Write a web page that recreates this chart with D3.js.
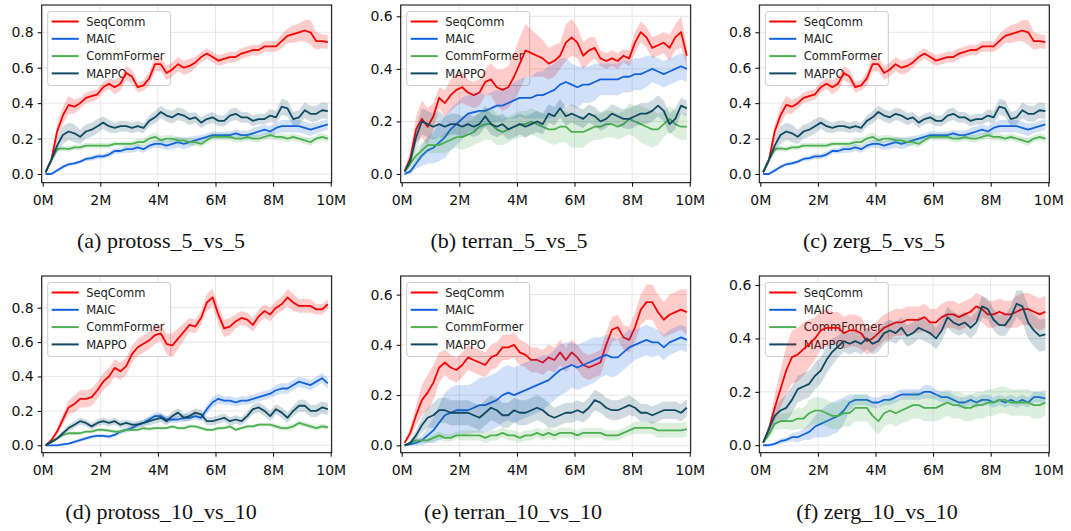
<!DOCTYPE html>
<html>
<head>
<meta charset="utf-8">
<script src="https://cdn.jsdelivr.net/npm/d3@7"></script>
<style>
  body { margin: 0; background: #fff; }
  svg text { font-family: "DejaVu Sans", sans-serif; }
  .caption { font-family: "Liberation Serif", "Times New Roman", serif !important; }
</style>
</head>
<body>
<svg id="chart" width="1071" height="531"></svg>
<script>
// training steps (millions) at which every curve is sampled
var steps = d3.range(50).map(i => 0.1 + i * 0.2);
var methods = ['SeqComm', 'MAIC', 'CommFormer', 'MAPPO'];
var colors = ['#ff0000', '#1262e0', '#4caf50', '#104a62'];
var xTicks = [0, 2, 4, 6, 8, 10];

// win rates in percent, mean and half band width

// (a) protoss_5_vs_5
var protoss5_seq = [1,8,24,33,39,38,40,43,44,45, 49,51,49,51,57,55,49,50,54,62, 62,57,59,62,60,61,63,66,68,66, 64,65,66,66,68,69,70,70,72,72, 72,75,78,79,80,81,80,75,75,74.5];
var protoss5_seq_sd = [1,2,4,5,5,4,3,3,3,3, 3,3,4,4,4,4,3,3,4,4, 4,4,4,4,4,4,3,3,3,3, 3,3,3,3,3,3,3,3,3,3, 3,4,4,5,5,6,7,5,4,4];
var protoss5_maic = [0,0,2,4,5.5,6,7,8.5,9,10, 10,11,13,13,14,14,15,14,16,17, 17,16,17,18,17,18,19,20,21,22, 22,22,22,23,22,22,23,24,25,24, 26,27,27,27,27,26,25,26,27,28];
var protoss5_maic_sd = [0.5,0.5,1,1,1,1,1,1,1.5,1.5, 1.5,1.5,1.5,1.5,2,2,2,2,2,2, 2.5,2.5,3,3,3,3,2.5,2,2,2, 2,2,2,2,2.5,2.5,3,3,3,3, 3,3.5,3.5,3.5,3.5,3.5,3.5,3,3,3];
var protoss5_comm = [1,8,14,14.5,14,15,15,16,16,16, 16,16,17,17,17,17,18,18,20,21, 19,20,20,19,19,18,18,17,19,21, 21,21,21,20,20,21,20,20,21,22, 21,21,20,21,20,19,18,20,21,20];
var protoss5_comm_sd = [0.5,1,1.5,1.5,1.5,1.5,1.5,1.5,1.5,1.5, 1.5,1.5,1.5,1.5,1.5,1.5,2,2,2,2.5, 2.5,2,2,2,2,2,2,2,2,2, 2,2,2,2,2,2,2,2,2,2, 2,2,2,2,2,2,2,2,2,2];
var protoss5_mappo = [1,8,16,22,24,23,21,24,25,27, 29,27,26,27,27,26,27,26,30,32, 35,33,32,34,33,31,32,29,31,32, 30,30,33,34,32,32,30,31,31,33, 32,38,37,31,32,36,34,34,36,35.5];
var protoss5_mappo_sd = [0.5,2,4,5,5,5,4,4,4,4, 3.5,3.5,3,3,3,3,3,3,3,3.5, 3.5,3.5,3.5,3.5,3.5,3.5,3,3,3,3, 3,3,3.5,3.5,3,3,3,3,3,3.5, 3.5,4.5,4.5,4,4,4.5,4.5,4.5,4.5,4.5];

// (b) terran_5_vs_5
var terran5_seq = [1,6,17,21,18,22,29,27,30,32, 33,31,30,31,35,36,33,32,33,37, 42,47,46,45,44,42,43,45,50,52, 50,45,47,48,44,43,44,43,45,44, 50,54,52,48,49,50,48,52,54,45];
var terran5_seq_sd = [1,3,5,7,7,5,4,5,6,6, 6,5,5,5,5,6,7,8,8,9, 10,10,9,8,7,6,6,5,7,7, 6,5,5,4,3,3,3,3,2.5,3, 4,4,4,4,4,4,5,5,6,4];
var terran5_maic = [0,1,4,7,9,10,12,14,17,19, 21,23,23.5,24,24,25,26,26,27,28, 29,29,29,30,30,31,32,34,35,34, 33,34,34,35,36,36,36,36,37,37, 38,38,39,40,39,38,39,40,41,40];
var terran5_maic_sd = [0.5,1,2,4,5,6,7,8,8,8, 8,7,7,7,6,6,6,6,6,7, 7,8,8,9,9,10,10,10,9,8, 8,7,7,7,6,6,6,6,6,6, 6,6,6,5,5,5,5,5,5,5];
var terran5_comm = [1,4,7,9,11,11,11,12,13,14, 14,15,16,18,19,19,17,16,17,18, 19,19,20,19,18,17,17,18,18,16, 16,16,17,18,18,19,19,18,19,21, 20,19,18,17,17,19,21,19,18,18];
var terran5_comm_sd = [1,2,3,3,3,3,3,4,4,4, 5,5,5,6,6,6,6,5,5,5, 5,5,5,5,5,5,6,6,6,6, 6,6,5,5,5,5,5,5,5,6, 6,7,7,7,6,5,5,5,5,5];
var terran5_mappo = [1,5,14,20,19,18,19,18,19,19, 18,19,18,19,22,19,18,19,17,18, 19,18,19,20,19,23,22,25,22,23, 22,21,23,22,20,21,23,22,21,21, 22,23,23,24,26,24,19,21,26,25];
var terran5_mappo_sd = [0.5,2,4,5,5,5,5,4,4,4, 4,4,4,4,4,4,4,4,4,4, 4,4,4,4,4,3.5,3.5,3.5,3.5,3.5, 3.5,3.5,3.5,3.5,3.5,3.5,3.5,3.5,3.5,4, 4,4,4,4,4,4,4,4,3,3];

// (d) protoss_10_vs_10
var protoss10_seq = [0,3,8,15,22,24,27,27,28,32, 37,40,45,43,46,53,57,59,61,64, 65,59,58,62,66,70,69,74,83,86, 76,68,69,72,74,73,70,75,78,76, 80,82,86,83,81,81,81,79,79,82];
var protoss10_seq_sd = [0.5,1,2,3,4,5,5,5,5,5, 5,5,5,5,5,5,5,5,5,5, 5,6,7,6,5,4,4,4,5,5, 5,5,5,4,4,4,4,4,4,4, 4,4,5,5,4,4,4,3,3,3];
var protoss10_maic = [0,0,0,0.5,1,2,3,4,5,5.5, 5.5,5,6,8,9,10,12,13,15,17, 17,15,15,15,16,16,17,16,21,25, 27,26,26,25,26,26,27,28,29,30, 32,33,33,35,37,36,35,37,39,36];
var protoss10_maic_sd = [0.3,0.3,0.5,0.5,0.5,1,1,1,1,1, 1,1,1,1.5,1.5,1.5,1.5,1.5,2,2, 2,2,2,2,2,2,2,2,2.5,3, 3,2.5,2.5,2.5,2.5,2.5,2.5,2.5,2.5,2.5, 3,3,3,3,3,3,3,3,3,3];
var protoss10_comm = [0,2,4,6,7,7,7,8,8,9, 9,8.5,8,8,9,9,9,10,9.5,10, 10,10,11,10,10,11,11,10,9,9, 10,10,11,9,10,11,11,12,12,12, 11,10,10,11,13,12,11,10,11,10.5];
var protoss10_comm_sd = [0.3,1,1,1,1,1,1,1,1,1, 1,1,1,1,1,1,1,1,1,1, 1,1,1,1,1,1,1,1,1,1, 1,1,1,1,1,1,1,1,1,1, 1.5,1.5,1.5,1.5,1.5,1.5,1.5,1.5,1.5,1.5];
var protoss10_mappo = [0,2,4,7,10,12,14,13,11,13, 14,13,14,12,13,12,12,13,14,15, 16,14,17,19,16,17,19,18,14,14, 15,16,14,15,14,17,21,22,20,17, 21,19,16,20,23,23,20,20,22,21];
var protoss10_mappo_sd = [0.3,1,1,1.5,2,2,2,2,2,2, 2,2,2,2,2,2,2,2,2.5,2.5, 2.5,2.5,2.5,2.5,2.5,2.5,2.5,2.5,2.5,2.5, 2.5,2.5,2.5,2.5,2.5,2.5,3,3,3,3, 3,3,3,3,3.5,3.5,3.5,3.5,3.5,3.5];

// (e) terran_10_vs_10
var terran10_seq = [1,5,12,18,21,25,31,33,31,30, 32,35,34,33,32,35,36,39,39,40, 37,36,34,34,33,35,34,37,34,37, 35,32,31,32,33,40,46,47,43,42, 47,54,57,57,53,50,52,53,54,53];
var terran10_seq_sd = [0.5,2,4,6,7,7,6,5,5,5, 5,5,5,5,5,5,5,5,5,5, 5,5,5,5,5,5,5,5,5,5, 5,5,5,5,5,5,5,5,5,5, 6,6,7,7,7,7,8,8,8,9];
var terran10_maic = [0,0.5,1,2,4,6,9,12,13,14, 14,14,15,16,16,17,18,20,21,20, 21,22,23,24,25,26,28,30,31,32, 31,32,33,34,35,36,35,35,37,39, 40,41,42,41,41,39,41,42,43,42];
var terran10_maic_sd = [0.3,0.5,1,2,3,5,7,9,10,10, 10,10,10,11,11,11,11,11,11,11, 11,11,11,11,11,10,10,10,10,9, 9,9,9,9,8,8,8,7,7,7, 6,6,6,6,5,5,5,5,5,5];
var terran10_comm = [0,1,2,2,2,3,4,3,3,4, 4,4,4,4,3,4,4,5,4,4, 3,4,4,5,4,5,4,5,5,5, 4,5,5,5,5,4,4,4,5,6, 7,7,7,7,6,6,6,6,6,6.5];
var terran10_comm_sd = [0.3,0.5,1,1,1,1.5,1.5,1.5,1.5,1.5, 2,2,2,2,2,2,2,2,2,2, 2,2,2,2,2,2,2,2,2,2, 2,2,2,2,2,2,2,2,2,2, 2.5,2.5,2.5,2.5,3,3,3,3,3,3];
var terran10_mappo = [0,1,4,8,11,12,14,14,13,13, 13,13,12,11,13,15,14,12,12,14, 13,13,14,15,14,12,11,12,13,13, 14,13,15,18,17,15,14,14,15,16, 15,13,13,12,13,14,14,14,13,15];
var terran10_mappo_sd = [0.3,1,2,3,4,5,5,5,5,5, 5,5,5,5,5,5,5,5,5,5, 5,5,5,5,5,5,4,4,4,4, 4,4,4,4,4,4,4,4,4,4, 3.5,3.5,3.5,3.5,3.5,3.5,3.5,3.5,3.5,3.5];

// (f) zerg_10_vs_10
var zerg10_seq = [1,6,14,21,28,33,34,36,38,40, 43,44,44,44,42,43,43,42,39,40, 42,44,45,46,46,47,47,47,48,46, 46,48,49,49,48,49,50,52,51,49, 49,50,49,49,50,51,51,50,49,50];
var zerg10_seq_sd = [0.5,2,5,7,9,10,10,10,9,8, 7,7,6,6,6,6,6,6,5,5, 5,5,5,5,5,5,5,5,5,5, 5,5,5,5,5,5,5,5,5,5, 5,5,5,5,6,6,6,6,6,6];
var zerg10_maic = [0,0,0.5,1.5,2,3,3,4,5,7, 8,9,10,11,13,16,17,17,17,16, 16,17,17,18,19,19,19,19,20,20, 19,18,18,17,16,16,17,16,17,17, 16,17,16,17,16,17,16,18,18,17.5];
var zerg10_maic_sd = [0.3,0.3,0.5,1,1,1.5,2,2,3,4, 5,6,6,6,5,3,2,2,2,2, 2,2,2,2,2,2,2,2,2.5,2.5, 2,2,2,2,2,2,2,2,2,2, 2,2,2,2,2,2,2,2,2,2];
var zerg10_comm = [1,4,8,9,9,9,10,10,12,13, 13,12,11,11,12,12,14,14,14,11, 9,12,13,12,13,14,15,15,14,14, 14,15,16,15,15,14,14,15,15,16, 16,17,17,16,16,16,16,15,15,16];
var zerg10_comm_sd = [0.5,1.5,2.5,3,3,3.5,4,4,5,5, 5,5,5,5,5,5,5,5,5,5, 5,5,5,5,5,5,5,5,5,5, 5,5,5,5,5,5,5,5,5,5, 5,5,5,5,5,5,5,5,5,5];
var zerg10_mappo = [1,6,11,13,14,17,21,22,23,26, 28,32,35,37,39,38,39,38,40,38, 39,42,43,42,44,41,42,44,43,42, 40,43,48,46,45,46,44,46,52,51, 47,45,45,48,53,52,46,43,41,41.5];
var zerg10_mappo_sd = [0.5,2,3,4,5,5,5,5,5,5, 5,5,5,4,4,4,4,4,4,4, 4,4,4,4,4,4,4,4,4,4, 4,4,4,4,4,4,4,4,4,4, 4,4,4,4,5,6,6,6,6,6];

var protoss5 = [[protoss5_seq, protoss5_seq_sd], [protoss5_maic, protoss5_maic_sd],
                [protoss5_comm, protoss5_comm_sd], [protoss5_mappo, protoss5_mappo_sd]];
var terran5 = [[terran5_seq, terran5_seq_sd], [terran5_maic, terran5_maic_sd],
               [terran5_comm, terran5_comm_sd], [terran5_mappo, terran5_mappo_sd]];
// (c) shows the very same curves as (a)
var zerg5 = protoss5;
var protoss10 = [[protoss10_seq, protoss10_seq_sd], [protoss10_maic, protoss10_maic_sd],
                 [protoss10_comm, protoss10_comm_sd], [protoss10_mappo, protoss10_mappo_sd]];
var terran10 = [[terran10_seq, terran10_seq_sd], [terran10_maic, terran10_maic_sd],
                [terran10_comm, terran10_comm_sd], [terran10_mappo, terran10_mappo_sd]];
var zerg10 = [[zerg10_seq, zerg10_seq_sd], [zerg10_maic, zerg10_maic_sd],
              [zerg10_comm, zerg10_comm_sd], [zerg10_mappo, zerg10_mappo_sd]];

var panels = [
  {caption: '(a) protoss_5_vs_5', series: protoss5, left: 41.7, top: 5, height: 177.7, ymin: -0.049, ymax: 0.954, yTicks: [0, 0.2, 0.4, 0.6, 0.8], cx: 161},
  {caption: '(b) terran_5_vs_5', series: terran5, left: 400.7, top: 5, height: 177.7, ymin: -0.033, ymax: 0.643, yTicks: [0, 0.2, 0.4, 0.6], cx: 509},
  {caption: '(c) zerg_5_vs_5', series: zerg5, left: 759.3, top: 5, height: 177.7, ymin: -0.049, ymax: 0.954, yTicks: [0, 0.2, 0.4, 0.6, 0.8], cx: 874},
  {caption: '(d) protoss_10_vs_10', series: protoss10, left: 41.7, top: 276, height: 176.7, ymin: -0.043, ymax: 0.984, yTicks: [0, 0.2, 0.4, 0.6, 0.8], cx: 161},
  {caption: '(e) terran_10_vs_10', series: terran10, left: 400.7, top: 276, height: 176.7, ymin: -0.029, ymax: 0.674, yTicks: [0, 0.2, 0.4, 0.6], cx: 513},
  {caption: '(f) zerg_10_vs_10', series: zerg10, left: 759.3, top: 276, height: 176.7, ymin: -0.028, ymax: 0.634, yTicks: [0, 0.2, 0.4, 0.6], cx: 877}
];

var W = 290;
var svg = d3.select('#chart');

panels.forEach(function(p, pi) {
  var g = svg.append('g').attr('transform', 'translate(' + p.left + ',' + p.top + ')');
  var x = d3.scaleLinear().domain([0, 10]).range([1, 289]);
  var y = d3.scaleLinear().domain([p.ymin, p.ymax]).range([p.height, 0]);

  g.append('clipPath').attr('id', 'clip' + pi)
    .append('rect').attr('width', W).attr('height', p.height);

  // grid
  var grid = g.append('g').attr('stroke', '#e6e6e6').attr('stroke-width', 1);
  grid.selectAll('.gx').data(xTicks).join('line')
    .attr('x1', d => x(d)).attr('x2', d => x(d)).attr('y1', 0).attr('y2', p.height);
  grid.selectAll('.gy').data(p.yTicks).join('line')
    .attr('y1', d => y(d)).attr('y2', d => y(d)).attr('x1', 0).attr('x2', W);

  // legend (sits under the curves, as in the figure)
  var lg = g.append('g').attr('transform', 'translate(6,6.5)');
  lg.append('rect').attr('width', 123).attr('height', 74).attr('rx', 3)
    .attr('fill', '#fff').attr('stroke', '#cccccc').attr('stroke-width', 1);
  methods.forEach(function(m, i) {
    var ry = 10 + i * 17.3;
    lg.append('line').attr('x1', 4).attr('x2', 31).attr('y1', ry).attr('y2', ry)
      .attr('stroke', colors[i]).attr('stroke-width', 2);
    lg.append('text').attr('x', 38.5).attr('y', ry).attr('dy', '0.36em')
      .attr('font-size', '11.5px').attr('fill', '#222').text(m);
  });

  // curves with shaded bands
  var plot = g.append('g').attr('clip-path', 'url(#clip' + pi + ')');
  p.series.forEach(function(s, i) {
    var mean = s[0], sd = s[1];
    var pts = steps.map((t, k) => ({t: t, m: mean[k] / 100, s: sd[k] / 100}));
    plot.append('path').datum(pts)
      .attr('fill', colors[i]).attr('fill-opacity', 0.2).attr('stroke', 'none')
      .attr('d', d3.area().x(d => x(d.t)).y0(d => y(d.m - d.s)).y1(d => y(d.m + d.s)));
    plot.append('path').datum(pts)
      .attr('fill', 'none').attr('stroke', colors[i]).attr('stroke-width', 1.8)
      .attr('stroke-linejoin', 'round')
      .attr('d', d3.line().x(d => x(d.t)).y(d => y(d.m)));
  });

  // frame
  g.append('rect').attr('width', W).attr('height', p.height)
    .attr('fill', 'none').attr('stroke', '#000').attr('stroke-width', 1);

  var ax = g.append('g').attr('transform', 'translate(0,' + p.height + ')')
    .call(d3.axisBottom(x).tickValues(xTicks).tickFormat(d => d + 'M').tickSize(4).tickPadding(8));
  var ay = g.append('g')
    .call(d3.axisLeft(y).tickValues(p.yTicks).tickFormat(d3.format('.1f')).tickSize(4).tickPadding(4));
  [ax, ay].forEach(a => {
    a.select('.domain').remove();
    a.selectAll('text').attr('font-size', '14px').attr('fill', '#111')
      .style('font-family', '"DejaVu Sans", sans-serif');
    a.selectAll('line').attr('stroke', '#000');
  });

  svg.append('text').attr('class', 'caption')
    .attr('x', p.cx).attr('y', p.top + 243)
    .attr('text-anchor', 'middle').attr('font-size', '22px').attr('fill', '#111')
    .text(p.caption);
});
</script>
</body>
</html>
